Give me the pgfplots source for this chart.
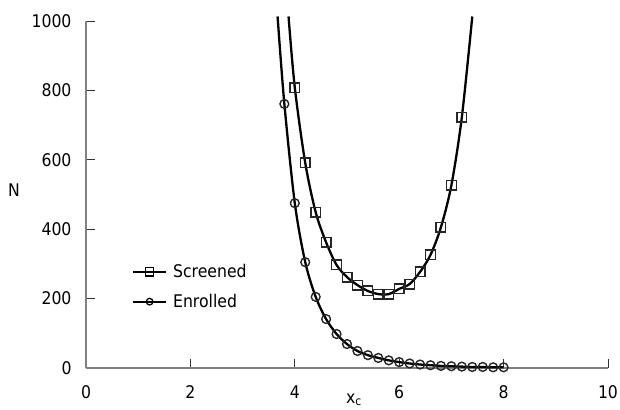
\documentclass[border=0pt]{standalone}
\usepackage{pgfplots}
\pgfplotsset{compat=1.18}
\usepackage{fontspec}
\setmainfont{DejaVu Sans Condensed}
\begin{document}
\begin{tikzpicture}
\begin{axis}[
  scale only axis, width=522bp, height=347bp,
  xmin=0, xmax=10, ymin=0, ymax=1000,
  axis lines=left,
  axis line style={-, draw=gray, line width=1.2bp},
  xtick={0,2,...,10}, ytick={0,200,...,1000},
  tick align=inside, major tick length=9bp,
  tick style={black!80, line width=0.9bp},
  minor tick num=0,
  clip=false,
  /pgf/number format/assume math mode=true,
  /pgf/number format/1000 sep={},
  tick label style={font=\fontsize{17.5}{20}\selectfont},
  xticklabel style={yshift=-14bp},
  yticklabel style={xshift=-11bp},
  xlabel={x\raisebox{-0.25ex}{\fontsize{12}{14}\selectfont c}},
  xlabel style={at={(axis description cs:0.513,-0.092)}, anchor=center, font=\fontsize{17.5}{20}\selectfont},
  ylabel={N},
  ylabel style={at={(axis description cs:-0.138,0.513)}, rotate=-90, anchor=center, font=\fontsize{17.5}{20}\selectfont},
  legend cell align=left,
  legend style={draw=none, fill=none, at={(0.088,0.234)}, anchor=west,
    font=\fontsize{17.5}{20}\selectfont, row sep=11bp, inner sep=0pt,
    nodes={inner xsep=6bp}},
  legend image code/.code={\draw[mark repeat=2,mark phase=2,#1] plot coordinates {(0bp,0bp)(16.5bp,0bp)(33bp,0bp)};},
]
% Screened line
\addplot[black, line width=2.3bp, smooth, no marks, forget plot] coordinates {
(3.88,1013) (4.0,808) (4.2,591) (4.4,449) (4.6,362) (4.8,297) (5.0,262) (5.2,239)
(5.4,222) (5.6,213) (5.8,213) (6.0,228) (6.2,242) (6.4,277) (6.6,326) (6.8,406)
(7.0,527) (7.2,723) (7.40,1013)};
% Screened markers
\addplot[only marks, mark=square, mark size=4.8bp, draw=black!85, line width=1.4bp, forget plot] coordinates {
(4.0,808) (4.2,591) (4.4,449) (4.6,362) (4.8,297) (5.0,262) (5.2,239)
(5.4,222) (5.6,213) (5.8,213) (6.0,228) (6.2,242) (6.4,277) (6.6,326) (6.8,406)
(7.0,527) (7.2,723)};
% Enrolled line
\addplot[black, line width=2.3bp, smooth, no marks, forget plot] coordinates {
(3.67,1013) (3.8,761) (4.0,475) (4.2,305) (4.4,205) (4.6,141) (4.8,98) (5.0,69)
(5.2,49) (5.4,37) (5.6,29) (5.8,22) (6.0,17) (6.2,13) (6.4,10) (6.6,8) (6.8,6)
(7.0,5) (7.2,4) (7.4,3) (7.6,3) (7.8,2) (8.0,2)};
% Enrolled markers
\addplot[only marks, mark=o, mark size=4.4bp, draw=black!85, line width=1.4bp, forget plot] coordinates {
(3.8,761) (4.0,475) (4.2,305) (4.4,205) (4.6,141) (4.8,98) (5.0,69)
(5.2,49) (5.4,37) (5.6,29) (5.8,22) (6.0,17) (6.2,13) (6.4,10) (6.6,8) (6.8,6)
(7.0,5) (7.2,4) (7.4,3) (7.6,3) (7.8,2) (8.0,2)};
\addlegendimage{black, line width=2bp, mark=square, mark size=4.2bp, mark options={line width=1.3bp}}
\addlegendentry{Screened}
\addlegendimage{black, line width=2bp, mark=o, mark size=3.3bp, mark options={line width=1.3bp}}
\addlegendentry{Enrolled}
\end{axis}
\pgfresetboundingbox
\path ([shift={(-86bp,-42bp)}]current axis.south west) rectangle ([shift={(534bp,368bp)}]current axis.south west);
\end{tikzpicture}
\end{document}
